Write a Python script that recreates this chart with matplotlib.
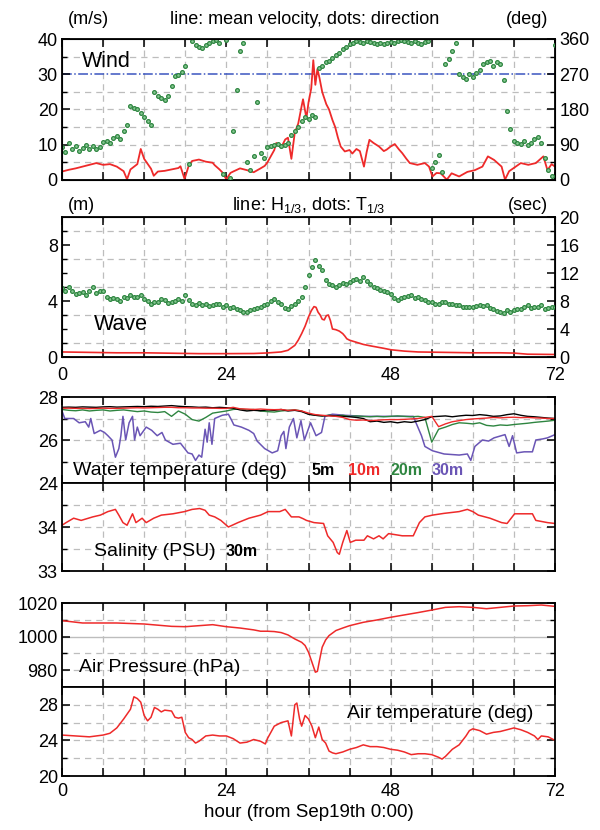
import numpy as np
import matplotlib
matplotlib.use('Agg')
import matplotlib.pyplot as plt

plt.rcParams['font.family'] = ['Liberation Sans', 'DejaVu Sans']
plt.rcParams['mathtext.fontset'] = 'custom'
plt.rcParams['mathtext.rm'] = 'Liberation Sans'
plt.rcParams['mathtext.it'] = 'Liberation Sans:italic'

### data (hours from Sep19th 0:00)
# wind: mean velocity (m/s)
wind_t = [0, 1, 2, 3, 4, 5, 6, 7, 8, 9, 9.5, 10, 11, 11.5, 12, 13, 13.4, 14, 15, 16, 17, 17.3, 17.9,
          18.5, 19, 20, 21, 22, 22.3, 23, 23.4, 24, 24.6, 25, 26, 27, 28, 29, 29.6, 30, 31, 31.3, 32,
          32.6, 33, 33.5, 34, 34.5, 35, 35.2, 35.7, 36, 36.4, 36.7, 37, 37.3, 37.6, 38, 38.2, 38.6, 39,
          39.5, 39.9, 40.3, 40.7, 41.3, 42, 42.4, 43, 43.5, 44.1, 44.5, 44.9, 45.5, 46.3, 47, 47.4, 48,
          48.6, 49.2, 49.7, 50.3, 50.8, 51.9, 53, 53.6, 54.1, 54.7, 55.3, 56.2, 56.9, 58, 59.2, 60.3,
          61.4, 62.2, 63.1, 64.2, 64.7, 65.3, 65.9, 67, 68.1, 69.2, 70.3, 70.9, 71.5, 72]
wind_v = [2.4, 2.9, 3.3, 3.8, 4.3, 4.8, 4.3, 4.5, 3.8, 2.5, 0.2, 3.0, 4.5, 8.8, 6.0, 3.2, 1.2, 2.4, 2.6, 3.0, 3.4, 3.9, 0.3,
          4.0, 5.4, 5.8, 5.2, 4.9, 4.2, 3.0, 2.2, 0.2, 2.0, 2.4, 3.3, 2.8, 2.2, 3.3, 4.0, 5.0, 8.5, 10.5, 9.2,
          11.5, 12.0, 6.0, 13.5, 16.0, 21.0, 22.9, 17.5, 22.0, 26.0, 34.0, 27.0, 31.5, 29.0, 25.0, 23.8, 21.5, 20.0,
          17.0, 15.0, 12.0, 9.5, 8.1, 8.5, 7.5, 8.8, 8.2, 3.8, 8.0, 11.4, 10.5, 9.5, 8.2, 8.6, 9.5,
          10.2, 8.7, 7.6, 6.0, 4.8, 4.3, 4.8, 3.8, 1.0, 2.0, 1.9, 0.1, 1.9, 1.0, 2.3, 2.8,
          3.8, 6.7, 5.7, 3.8, 0.1, 2.5, 3.3, 4.8, 4.3, 4.8, 6.7, 2.8, 4.5, 3.8]
# wind direction (deg), every 0.5 h
dir_t = np.arange(0, 72.01, 0.5)
dir_deg = [85, 72, 95, 80, 88, 75, 82, 90, 78, 86, 80,
           84, 98, 100, 95, 108, 112, 104, 125, 140,
           190, 185, 182, 170, 160, 150, 140, 225, 215, 210, 205, 215, 240, 265, 268, 275, 290,
           40, 355, 345, 340, 338, 345, 350, 355, 358, 350, 15, 358, 5, 125, 230, 330, 350,
           45, 25, 60, 200, 70, 55, 85, 88, 90, 92, 88, 90, 95, 115, 125, 135, 150, 160, 155,
           165, 160, 285, 290, 300, 305, 312, 318, 325, 335, 340, 348, 350, 355, 352, 350, 355,
           352, 350, 348, 350, 346, 350, 352, 350, 355, 358, 355, 352, 350, 355, 350, 348, 352,
           355, 30, 45, 65, 20, 295, 310, 330, 350, 270, 262, 258, 270, 262, 272, 280, 295, 300,
           305, 292, 300, 295, 255, 175, 130, 100, 95, 92, 100, 90, 95, 105, 110, 95, 55, 25, 10, 345]

# wave: H1/3 (m) and T1/3 (sec)
wave_t = [0, 4, 8, 12, 16, 20, 24, 28, 30, 32, 33, 34, 34.5, 35, 35.5, 36, 36.4, 36.8, 37.1, 37.4,
          37.7, 38.0, 38.3, 38.6, 38.9, 39.2, 39.5, 40, 40.5, 41, 41.3, 41.6, 42, 43, 44, 45, 46, 47,
          48, 50, 52, 56, 60, 64, 66, 68, 72]
wave_h = [0.36, 0.33, 0.3, 0.3, 0.27, 0.24, 0.24, 0.25, 0.29, 0.36, 0.48, 0.83, 1.2, 1.67, 2.2, 2.86,
          3.3, 3.6, 3.55, 3.2, 3.0, 2.7, 2.65, 2.95, 3.0, 2.6, 2.0, 1.95, 1.85, 1.67, 1.5, 1.3, 1.2,
          1.05, 0.9, 0.8, 0.71, 0.62, 0.52, 0.42, 0.36, 0.33, 0.3, 0.3, 0.28, 0.2, 0.18]
per_t = np.arange(0, 72.01, 0.5)
per_s = [9.8, 9.5, 10.0, 9.4, 9.0, 9.2, 9.3, 8.9, 9.5, 10.0, 9.2, 9.4, 9.5, 8.6, 8.3, 8.5, 8.3, 8.0,
         8.6, 8.4, 8.8, 8.6, 8.6, 8.9, 8.3, 8.0, 7.6, 7.9, 7.8, 8.3, 8.1, 7.7, 7.8, 8.0, 8.3, 8.0,
         8.8, 8.1, 7.6, 7.4, 7.7, 7.5, 7.6, 7.3, 7.4, 7.6, 7.6, 7.2, 7.4, 7.0, 7.1, 6.9, 6.7, 6.5,
         6.4, 6.7, 6.9, 7.0, 7.1, 7.4, 7.6, 8.0, 8.3, 7.8, 7.6, 7.0, 6.9, 7.3, 7.6, 8.0, 8.6, 10.0,
         11.7, 12.9, 13.8, 13.0, 12.4, 11.0, 10.5, 10.3, 10.0, 10.3, 10.6, 10.4, 10.7, 11.0, 11.2, 10.8,
         11.4, 10.9, 10.5, 10.0, 9.8, 9.6, 9.5, 9.3, 9.0, 8.4, 8.1, 8.4, 8.6, 8.7, 8.8, 8.5,
         8.6, 8.3, 8.1, 7.9, 7.8, 7.6, 7.6, 7.8, 7.8, 7.6, 7.6, 7.4, 7.4, 7.2, 7.1, 7.2,
         7.1, 7.3, 7.4, 7.3, 7.4, 7.0, 6.9, 6.6, 6.4, 6.3, 6.7, 6.5, 6.7, 6.8, 6.9, 7.2,
         7.4, 7.0, 7.1, 7.2, 7.4, 6.9, 7.0, 7.1, 7.1]

# water temperature (deg), hourly for 5m / 10m / 20m
wt_t = np.arange(0, 73, 1)
wt_5m = [27.52, 27.53, 27.52, 27.54, 27.53, 27.52, 27.54, 27.55, 27.53, 27.54,
         27.55, 27.56, 27.55, 27.57, 27.56, 27.58, 27.60, 27.57, 27.55, 27.54,
         27.52, 27.53, 27.50, 27.52, 27.50, 27.48, 27.40, 27.35, 27.38, 27.36,
         27.40, 27.38, 27.42, 27.35, 27.38, 27.32, 27.20, 27.15, 27.12, 27.14,
         27.12, 27.10, 27.08, 27.05, 27.00, 26.85, 26.88, 26.82, 26.85, 26.80,
         26.85, 26.82, 26.88, 26.95, 27.08, 27.10, 27.12, 27.08, 27.12, 27.15,
         27.14, 27.18, 27.15, 27.10, 27.12, 27.18, 27.22, 27.15, 27.10, 27.08,
         27.05, 27.02, 27.00]
wt_10m = [27.48, 27.48, 27.47, 27.47, 27.46, 27.47, 27.48, 27.47, 27.47, 27.48,
          27.49, 27.50, 27.49, 27.50, 27.51, 27.52, 27.52, 27.50, 27.50, 27.49,
          27.49, 27.48, 27.48, 27.47, 27.47, 27.52, 27.45, 27.44, 27.42, 27.44,
          27.42, 27.41, 27.42, 27.38, 27.40, 27.35, 27.25, 27.18, 27.15, 27.12,
          27.10, 27.05, 26.95, 26.92, 26.93, 26.90, 26.92, 26.94, 26.95, 26.95,
          26.96, 26.98, 27.00, 27.05, 27.10, 26.62, 26.75, 26.85, 26.90, 26.95,
          26.98, 27.00, 27.02, 27.05, 27.03, 27.05, 27.06, 27.04, 27.05, 27.03,
          27.02, 27.00, 27.00]
wt_20m = [27.42, 27.38, 27.36, 27.40, 27.35, 27.38, 27.40, 27.35, 27.38, 27.40,
          27.36, 27.32, 27.35, 27.30, 27.28, 27.32, 27.10, 27.35, 27.20, 26.95,
          26.88, 27.05, 27.25, 27.30, 27.35, 27.42, 27.45, 27.40, 27.42, 27.35,
          27.32, 27.30, 27.35, 27.38, 27.40, 27.35, 27.20, 27.15, 27.12, 27.15,
          27.12, 27.15, 27.10, 27.12, 27.10, 27.08, 27.10, 27.08, 27.10, 27.12,
          27.10, 27.08, 27.10, 27.05, 25.90, 26.50, 26.60, 26.72, 26.80, 26.78,
          26.75, 26.80, 26.68, 26.65, 26.70, 26.68, 26.72, 26.75, 26.78, 26.82,
          26.85, 26.88, 26.92]
wt30_t = [0, 0.4, 1.7, 2.5, 3.4, 3.9, 4.2, 4.7, 5.6, 6.2, 6.7, 7.3, 7.8, 8.3, 8.6, 8.9, 9.3, 9.8, 10.3,
          10.6, 11.0, 11.4, 12.3, 13.1, 13.9, 14.6, 15.1, 16.2, 17.3, 18.4, 19.0, 19.5, 20.0, 20.4, 20.9,
          21.2, 21.5, 21.9, 22.3, 23.4, 24.3, 24.8, 25.1, 26.2, 27.3, 28.0, 28.5, 29.6, 30.7, 31.5, 32.0,
          32.4, 32.7, 33.2, 33.8, 34.3, 34.9, 35.4, 36.3, 37.1, 37.9, 38.4, 39.5, 41.3, 44.1, 46.9, 51.3,
          51.9, 52.5, 53.0, 54.1, 55.8, 58.0, 59.2, 59.7, 60.3, 61.4, 62.3, 63.1, 64.7, 65.3, 65.8, 66.4,
          67.5, 68.7, 69.2, 70.2, 70.9, 72]
wt_30m = [27.35, 27.0, 27.0, 26.8, 26.85, 26.6, 27.0, 26.3, 26.45, 26.35, 26.2, 26.0, 25.2, 25.6, 26.2,
          27.1, 26.0, 26.8, 27.1, 26.0, 26.6, 26.2, 26.6, 26.45, 26.2, 26.35, 26.0, 25.8, 25.85, 25.4,
          25.35, 25.05, 25.3, 25.2, 26.5, 25.9, 26.8, 25.8, 27.0, 27.15, 27.2, 26.9, 26.7, 26.6, 26.45,
          26.3, 25.95, 25.6, 25.4, 25.5, 26.2, 26.4, 25.6, 26.6, 27.0, 26.1, 26.9, 26.0, 26.8, 26.2,
          26.35, 27.1, 27.2, 27.15, 27.1, 27.1, 27.1, 26.65, 26.2, 25.7, 25.5, 25.35, 25.3, 25.35,
          25.05, 25.7, 26.0, 25.95, 26.1, 26.25, 25.7, 26.2, 25.4, 25.45, 25.45, 26.0, 26.05, 26.1, 26.25]

# salinity at 30m (PSU)
sal_t = [0, 0.6, 1.7, 2.8, 4.5, 5.6, 6.7, 7.8, 8.3, 8.9, 9.5, 10.3, 10.8, 11.7, 12.3, 13.4, 14.5, 16.2,
         17.9, 19.0, 20.1, 20.9, 21.5, 22.3, 23.2, 24.3, 25.7, 27.3, 29.0, 30.1, 31.8, 32.6, 33.5, 34.6,
         35.2, 35.7, 36.8, 38.2, 38.8, 39.6, 40.2, 40.5, 41.0, 41.6, 42.1, 42.9, 44.1, 44.6, 45.5, 46.3,
         46.9, 47.7, 49.7, 51.3, 52.2, 53.0, 54.1, 55.8, 58.0, 59.2, 60.0, 60.8, 62.5, 64.2, 65.0, 66.1,
         68.7, 69.2, 70.9, 72]
sal = [34.04, 34.1, 34.2, 34.15, 34.23, 34.27, 34.35, 34.4, 34.27, 34.1, 34.04, 34.3, 34.1, 34.2,
       34.1, 34.2, 34.27, 34.3, 34.35, 34.4, 34.42, 34.38, 34.27, 34.23, 34.15, 34.0, 34.1, 34.2,
       34.27, 34.35, 34.35, 34.4, 34.23, 34.23, 34.19, 34.15, 34.1, 34.08, 33.8, 33.65, 33.42, 33.38,
       33.65, 33.92, 33.65, 33.7, 33.7, 33.8, 33.73, 33.8, 33.73, 33.85, 33.8, 33.8, 34.1, 34.23,
       34.27, 34.31, 34.35, 34.4, 34.35, 34.27, 34.2, 34.1, 34.08, 34.3, 34.3, 34.15, 34.1, 34.08]

# air pressure (hPa)
pres_t = [0, 3, 8, 12, 16, 18, 20, 22, 24, 26, 28, 29, 30, 31, 32, 33, 34, 35, 35.5, 36, 36.5, 37,
          37.3, 37.6, 38, 38.5, 39, 40, 41, 42, 44, 46, 48, 50, 52, 54, 56, 58, 60, 62, 64, 66, 68,
          70, 72]
pres = [1009.5, 1008.1, 1008.1, 1007.5, 1006.1, 1005.9, 1006.5, 1007.1, 1005.9, 1005.1, 1004.0,
        1003.2, 1003.2, 1003.0, 1002.4, 1001.0, 998.6, 996.6, 994.7, 990.7, 984.8, 978.8, 979.3,
        985.7, 993.7, 998.0, 1000.6, 1003.6, 1005.1, 1006.5, 1008.5, 1009.9, 1011.5, 1012.9, 1014.3,
        1015.8, 1017.4, 1017.8, 1017.4, 1016.6, 1017.4, 1018.2, 1018.4, 1018.8, 1018.0]

# air temperature (deg)
at_t = [0, 2, 4, 6, 7, 8, 9, 10, 10.5, 11, 11.5, 12, 12.5, 13, 13.5, 14, 14.5, 15, 16, 16.5, 17, 17.5,
        18, 18.5, 19, 19.5, 20, 21, 22, 23, 24, 25, 26, 27, 28, 29, 29.7, 30, 31, 32, 33, 33.5, 34,
        34.3, 34.7, 35, 35.5, 36, 36.5, 37, 37.5, 38, 38.5, 39, 39.5, 40, 41, 42, 43, 44, 45, 46, 47,
        48, 49, 50, 51, 52, 53, 54, 55, 55.5, 56, 57, 58, 59, 59.5, 60, 61, 62, 63, 64, 65, 66, 67,
        68, 69, 69.5, 70, 71, 72]
air_t = [24.6, 24.5, 24.4, 24.6, 24.8, 25.4, 26.4, 27.5, 28.9, 28.7, 28.3, 26.8, 26.2, 26.6, 27.7,
         27.5, 27.2, 27.4, 27.3, 26.6, 26.5, 26.6, 24.9, 24.3, 24.1, 23.7, 23.9, 24.5, 24.6, 24.5,
         24.5, 24.2, 23.7, 23.8, 24.1, 23.9, 23.6, 24.2, 25.6, 26.0, 26.2, 24.5, 28.0, 28.2, 26.4,
         25.6, 26.8, 26.4, 25.6, 24.3, 25.5, 24.1, 23.7, 22.8, 22.6, 22.5, 22.7, 23.0, 23.2, 23.5,
         23.3, 23.3, 23.2, 23.0, 22.9, 22.7, 22.4, 22.5, 22.5, 22.4, 22.1, 21.9, 22.2, 23.0, 23.5,
         24.5, 25.1, 25.3, 25.1, 24.7, 24.9, 25.0, 25.2, 25.4, 25.2, 24.9, 24.5, 24.1, 24.5, 24.4,
         24.0]

### colours
red = '#ee2a2a'
green = '#2e8540'
green_fill = '#86c892'
purple = '#6a55b5'
blue = '#3a55c0'
gridc = '#bdbdbd'

W, H = 600, 830
fig = plt.figure(figsize=(W / 100, H / 100), dpi=100)


def box(top, bottom):
    return [62 / W, 1 - bottom / H, 493 / W, (bottom - top) / H]


def style(ax, ygrid, xlabels=False, right=True, xpad=5):
    ax.set_xlim(0, 72)
    ax.set_xticks(range(0, 73, 6))
    if xlabels:
        ax.set_xticklabels([str(h) if h % 24 == 0 else '' for h in range(0, 73, 6)])
    else:
        ax.set_xticklabels([])
    ax.tick_params(which='major', direction='in', top=True, right=right, length=6, width=1.1,
                   labelsize=13, pad=3)
    ax.tick_params(axis='x', pad=xpad)
    ax.tick_params(which='minor', direction='in', top=True, right=right, length=3.5, width=1.0)
    for s in ax.spines.values():
        s.set_linewidth(1.3)
    for h in range(6, 72, 6):
        ax.axvline(h, color=gridc, lw=0.9, ls=(0, (5, 4)), zorder=0)
    for g in ygrid:
        ax.axhline(g, color=gridc, lw=0.9, ls=(0, (5, 4)), zorder=0)


def dots(ax, t, v):
    ax.plot(t, v, 'o', ms=2.7, mfc=green_fill, mec=green, mew=0.9, ls='none')


# ---- wind
ax1 = fig.add_axes(box(39, 180))
style(ax1, [5, 10, 15, 20, 25, 35], right=False)
ax1.set_ylim(0, 40)
ax1.set_yticks([0, 10, 20, 30, 40])
ax1.set_yticks([5, 15, 25, 35], minor=True)
ax1.axhline(30, color=blue, lw=1.1, ls='-.', zorder=1)
ax1.plot(wind_t, wind_v, color=red, lw=1.3, zorder=2)
ax1b = ax1.twinx()
ax1b.set_ylim(0, 360)
ax1b.set_yticks([0, 90, 180, 270, 360])
ax1b.set_yticks([45, 135, 225, 315], minor=True)
ax1b.tick_params(which='major', direction='in', length=6, width=1.1, labelsize=13, pad=3)
ax1b.tick_params(which='minor', direction='in', length=3.5, width=1.0)
dots(ax1b, dir_t, dir_deg)
ax1.text(0.04, 0.84, 'Wind', transform=ax1.transAxes, fontsize=15.5, va='center')
fig.text(88 / W, 1 - 20 / H, '(m/s)', fontsize=13, ha='center', va='center')
fig.text(305 / W, 1 - 20 / H, 'line: mean velocity, dots: direction', fontsize=13,
         ha='center', va='center')
fig.text(527 / W, 1 - 20 / H, '(deg)', fontsize=13, ha='center', va='center')

# ---- wave
ax2 = fig.add_axes(box(217, 357))
style(ax2, [1, 3, 5, 7, 9], xlabels=True, right=False, xpad=7)
ax2.set_ylim(0, 10)
ax2.set_yticks([0, 4, 8])
ax2.set_yticks([1, 2, 3, 5, 6, 7, 9], minor=True)
ax2.plot(wave_t, wave_h, color=red, lw=1.2, zorder=2)
ax2b = ax2.twinx()
ax2b.set_ylim(0, 20)
ax2b.set_yticks([0, 4, 8, 12, 16, 20])
ax2b.set_yticks([2, 6, 10, 14, 18], minor=True)
ax2b.tick_params(which='major', direction='in', length=6, width=1.1, labelsize=13, pad=3)
ax2b.tick_params(which='minor', direction='in', length=3.5, width=1.0)
dots(ax2b, per_t, per_s)
ax2.text(0.065, 0.23, 'Wave', transform=ax2.transAxes, fontsize=15.5, va='center')
fig.text(81 / W, 1 - 205 / H, '(m)', fontsize=13, ha='center', va='center')
fig.text(309 / W, 1 - 205 / H, r'line: H$_{1/3}$, dots: T$_{1/3}$', fontsize=13,
         ha='center', va='center')
fig.text(528 / W, 1 - 205 / H, '(sec)', fontsize=13, ha='center', va='center')

# ---- water temperature
ax3 = fig.add_axes(box(397, 483))
style(ax3, [25, 26, 27])
ax3.set_ylim(24, 28)
ax3.set_yticks([24, 26, 28])
ax3.set_yticks([25, 27], minor=True)
ax3.plot(wt30_t, wt_30m, color=purple, lw=1.1)
ax3.plot(wt_t, wt_20m, color=green, lw=1.0)
ax3.plot(wt_t, wt_5m, color='black', lw=1.0)
ax3.plot(wt_t, wt_10m, color=red, lw=1.0)
fig.text(73 / W, 1 - 470 / H, 'Water temperature (deg)', fontsize=14, va='center')
for lab, col, xp in [('5m', 'black', 312), ('10m', red, 348), ('20m', green, 391), ('30m', purple, 432)]:
    fig.text(xp / W, 1 - 470 / H, lab, color=col, fontsize=11.5, fontweight='bold', va='center')

# ---- salinity
ax4 = fig.add_axes(box(483, 571))
style(ax4, [33.5, 34, 34.5])
ax4.set_ylim(33, 35)
ax4.set_yticks([33, 34])
ax4.set_yticks([33.5, 34.5], minor=True)
ax4.plot(sal_t, sal, color=red, lw=1.1)
fig.text(94 / W, 1 - 552 / H, 'Salinity (PSU)', fontsize=14, va='center')
fig.text(226 / W, 1 - 552 / H, '30m', fontsize=11.5, fontweight='bold', va='center')

# ---- air pressure
ax5 = fig.add_axes(box(603, 687))
style(ax5, [980, 990, 1010])
ax5.axhline(1000, color=gridc, lw=1.0, zorder=0)
ax5.set_ylim(970, 1020)
ax5.set_yticks([980, 1000, 1020])
ax5.set_yticks([990, 1010], minor=True)
ax5.plot(pres_t, pres, color=red, lw=1.1)
fig.text(79 / W, 1 - 667 / H, 'Air Pressure (hPa)', fontsize=14, va='center')

# ---- air temperature
ax6 = fig.add_axes(box(687, 776))
style(ax6, [22, 24, 26, 28], xlabels=True)
ax6.set_ylim(20, 30)
ax6.set_yticks([20, 24, 28])
ax6.set_yticks([22, 26], minor=True)
ax6.plot(at_t, air_t, color=red, lw=1.1)
fig.text(347 / W, 1 - 713 / H, 'Air temperature (deg)', fontsize=14, va='center')
ax6.set_xlabel('hour (from Sep19th 0:00)', fontsize=13.5, labelpad=3)

fig.savefig('out.png', dpi=100, facecolor='white')
